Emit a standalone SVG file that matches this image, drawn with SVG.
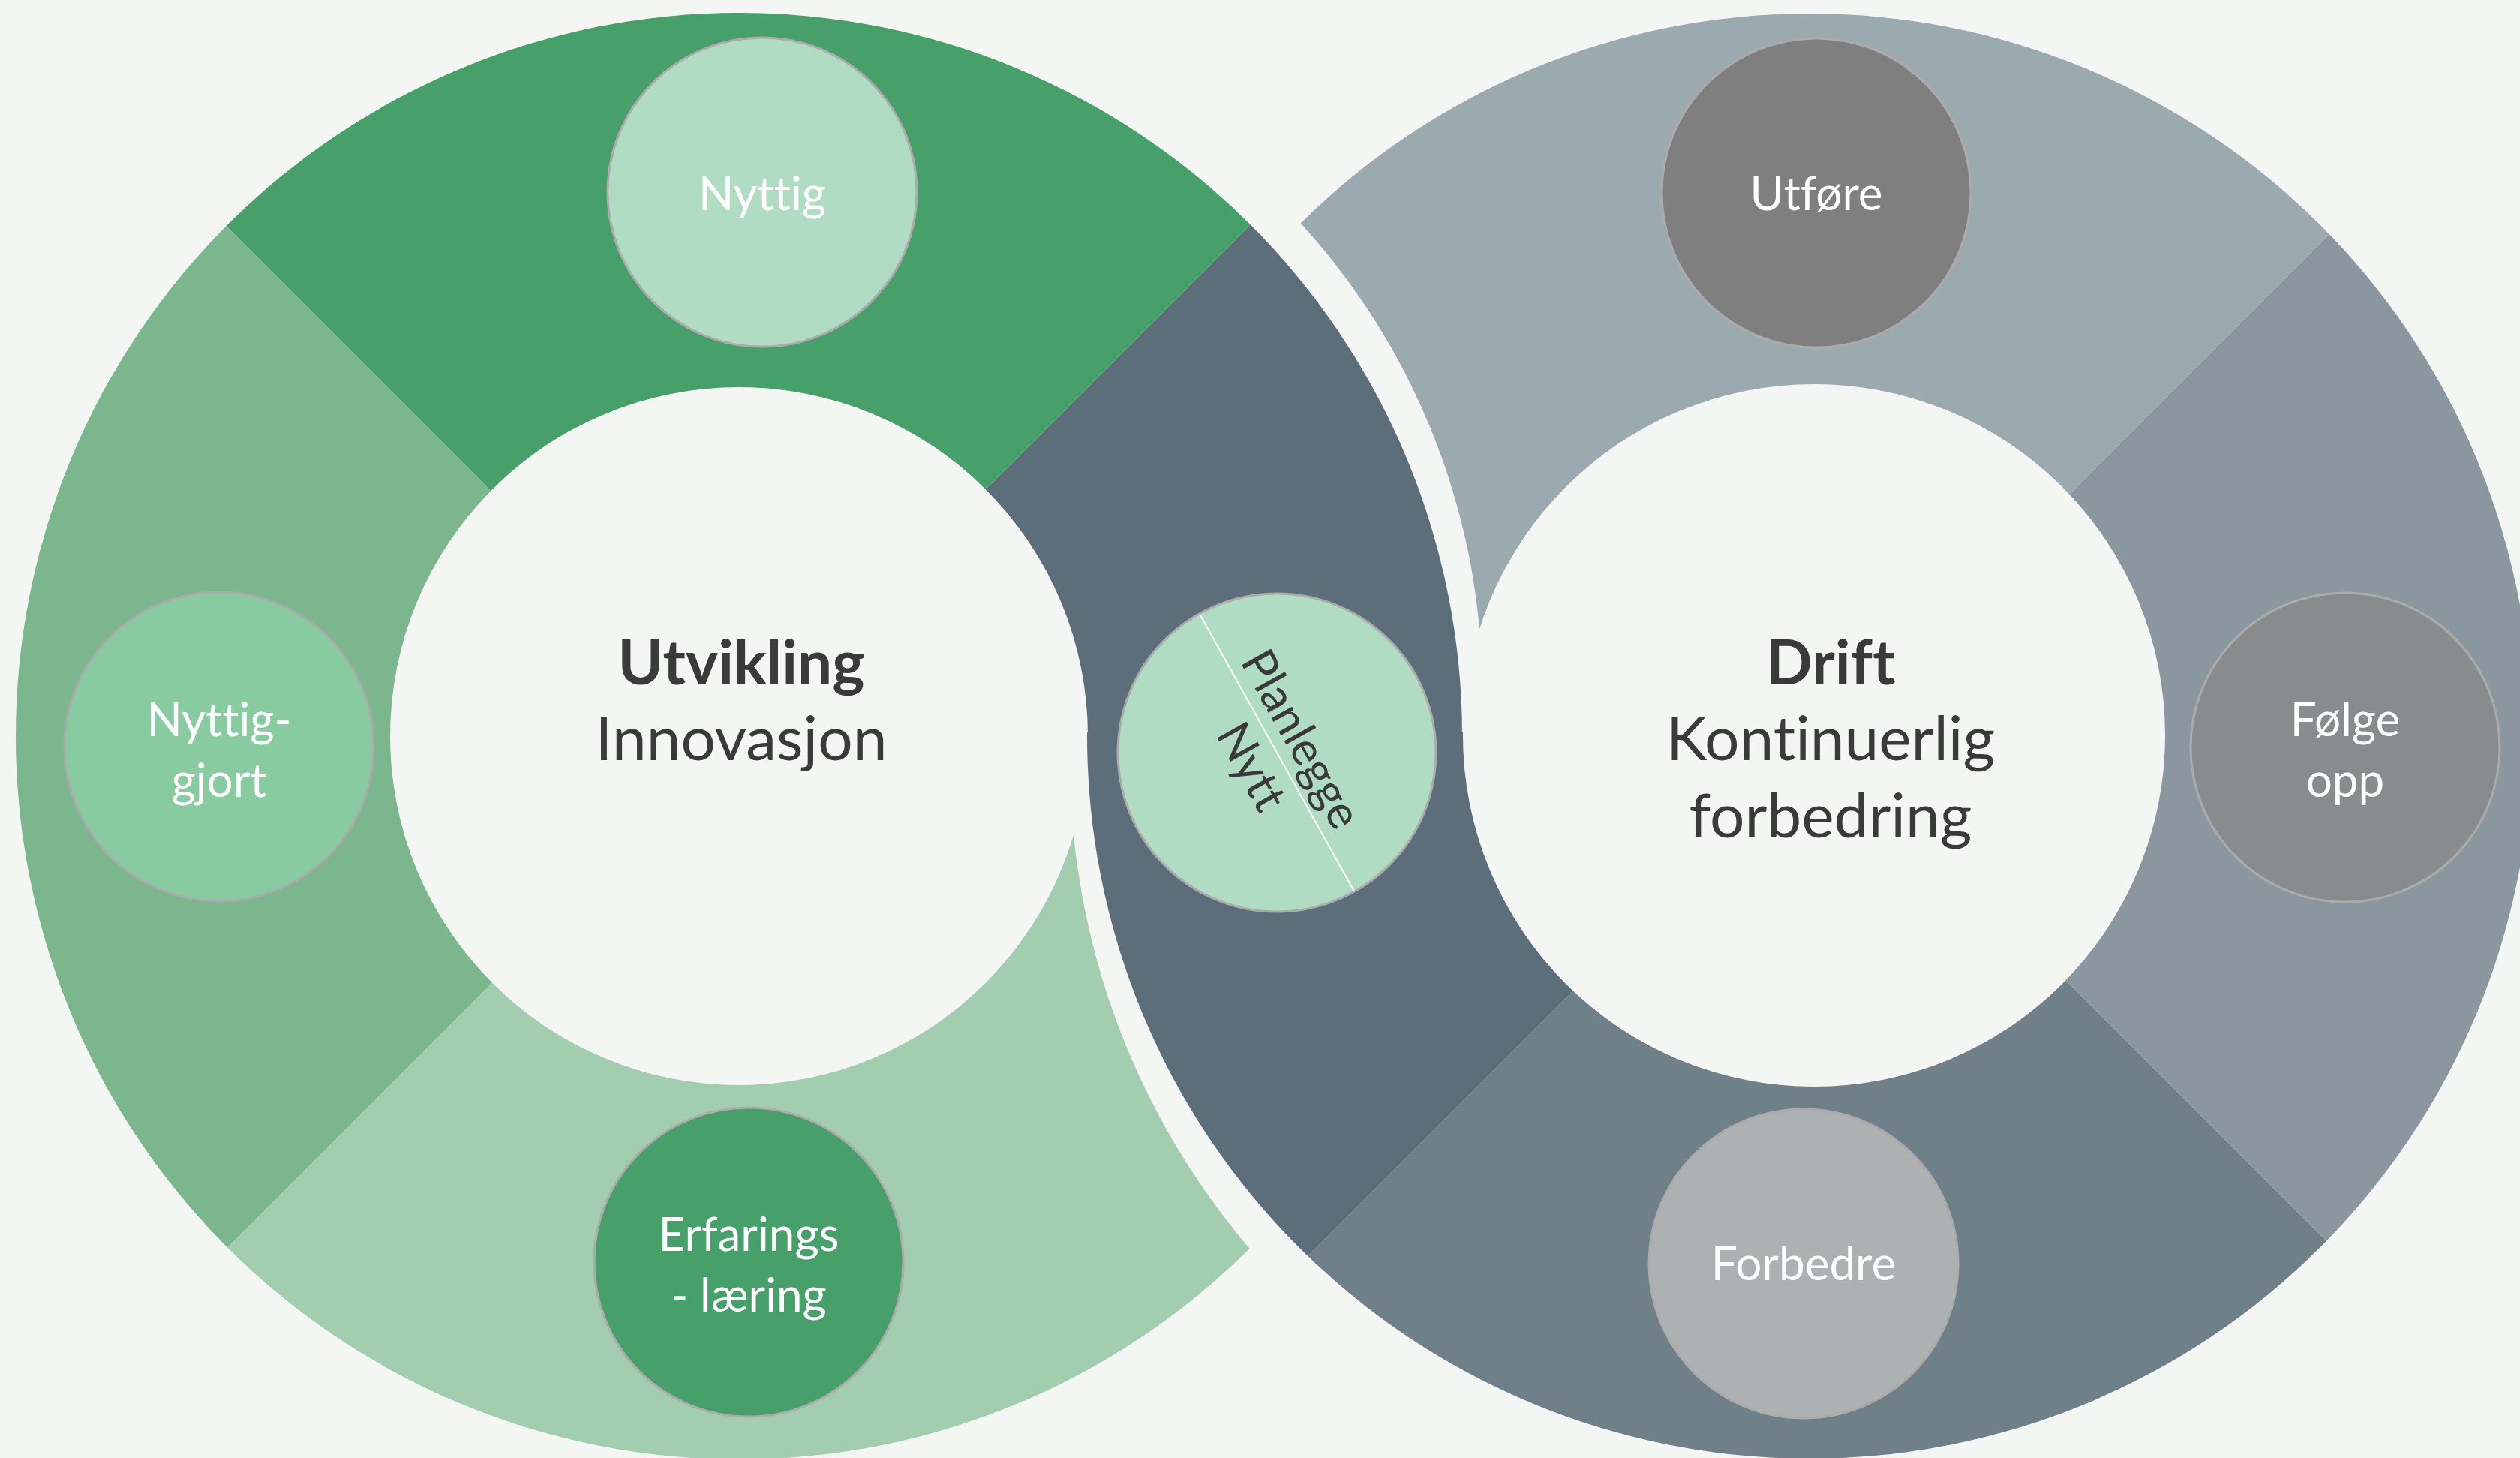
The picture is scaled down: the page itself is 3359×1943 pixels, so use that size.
<svg xmlns="http://www.w3.org/2000/svg" width="3359" height="1943" viewBox="0 0 3359 1943">
<style>
.ring{fill-rule:evenodd}
.node{stroke:#ABABAB;stroke-width:3}
.lbl{font-family:Lato,"Open Sans","Liberation Sans",sans-serif;font-size:62px;fill:#FFFFFF;text-anchor:middle;font-variant-ligatures:none;font-feature-settings:"liga" 0,"clig" 0}
.ctr{font-family:Lato,"Open Sans","Liberation Sans",sans-serif;font-size:82px;fill:#3A3A3A;text-anchor:middle;font-variant-ligatures:none;font-feature-settings:"liga" 0,"clig" 0}
.dark{fill:#3A3A3A}
.b{font-weight:bold}
</style>
<defs>
<path id="annL" d="M21 981A964 964 0 1 1 1949 981A964 964 0 1 1 21 981ZM520 981A465 465 0 1 1 1450 981A465 465 0 1 1 520 981Z"/>
<path id="annR" d="M1449 981A963 963 0 1 1 3375 981A963 963 0 1 1 1449 981ZM1950 980A468 468 0 1 1 2886 980A468 468 0 1 1 1950 980Z"/>
<clipPath id="wLTop"><polygon points="983,983 -117,-117 2083,-117"/></clipPath>
<clipPath id="wLLeft"><polygon points="983,983 -117,2083 -117,-117"/></clipPath>
<clipPath id="wLBot"><polygon points="983,983 2600,983 2600,2083 -117,2083"/></clipPath>
<clipPath id="wLDark"><polygon points="983,983 2083,-117 2600,-117 2600,995 983,995"/></clipPath>
<clipPath id="wRDark"><polygon points="2432,985 1232,2185 800,2185 800,975 2432,975"/></clipPath>
<clipPath id="wRTop"><polygon points="2432,985 800,985 800,-215 3632,-215"/></clipPath>
<clipPath id="wRRight"><polygon points="2432,985 3632,-215 3632,2185"/></clipPath>
<clipPath id="wRBot"><polygon points="2432,985 3632,2185 1232,2185"/></clipPath>
<mask id="mNotR" maskUnits="userSpaceOnUse" x="0" y="0" width="3359" height="1943"><rect width="3359" height="1943" fill="#fff"/><circle cx="2430" cy="1013" r="1004" fill="#000"/></mask>
<mask id="mNotL" maskUnits="userSpaceOnUse" x="0" y="0" width="3359" height="1943"><rect width="3359" height="1943" fill="#fff"/><circle cx="1050" cy="922" r="926" fill="#000"/></mask>
</defs>
<rect width="3359" height="1943" fill="#F4F6F3"/>
<g id="ring-utvikling">
<use href="#annL" class="ring" fill="#479F69" clip-path="url(#wLTop)"/>
<use href="#annL" class="ring" fill="#7CB68C" clip-path="url(#wLLeft)"/>
<g mask="url(#mNotR)"><use href="#annL" class="ring" fill="#A2CDAF" clip-path="url(#wLBot)"/></g>
</g>
<g id="ring-drift">
<g mask="url(#mNotL)"><use href="#annR" class="ring" fill="#9BAAAF" clip-path="url(#wRTop)"/></g>
<use href="#annR" class="ring" fill="#8A979E" clip-path="url(#wRRight)"/>
<use href="#annR" class="ring" fill="#708089" clip-path="url(#wRBot)"/>
</g>
<g id="link-band">
<use href="#annL" class="ring" fill="#5B6E7A" clip-path="url(#wLDark)"/>
<use href="#annR" class="ring" fill="#5B6E7A" clip-path="url(#wRDark)"/>
</g>
<g id="center-utvikling">
<text class="ctr b" x="988" y="912">Utvikling</text>
<text class="ctr" x="988" y="1013">Innovasjon</text>
</g>
<g id="center-drift">
<text class="ctr b" x="2440" y="912">Drift</text>
<text class="ctr" x="2440" y="1013">Kontinuerlig</text>
<text class="ctr" x="2440" y="1116">forbedring</text>
</g>
<g id="node-nyttig">
<circle class="node" cx="1016" cy="256" r="206" fill="#B0DCC3"/>
<text class="lbl" x="1016" y="280">Nyttig</text>
</g>
<g id="node-nyttiggjort">
<circle class="node" cx="292" cy="995" r="206" fill="#89CBA1"/>
<text class="lbl" x="292" y="981">Nyttig-</text>
<text class="lbl" x="292" y="1062">gjort</text>
</g>
<g id="node-erfaring">
<circle class="node" cx="998" cy="1682" r="206" fill="#479F69"/>
<text class="lbl" x="998" y="1667">Erfarings</text>
<text class="lbl" x="998" y="1748">- læring</text>
</g>
<g id="node-planlegge">
<circle class="node" cx="1702" cy="1003" r="212" fill="#B0DCC3"/>
<g transform="translate(1702 1003) rotate(60.88)">
<line x1="-211" y1="0" x2="211" y2="0" stroke="#FFFFFF" stroke-width="2"/>
<text class="lbl dark" x="0" y="-16">Planlegge</text>
<text class="lbl dark" x="0" y="60">Nytt</text>
</g>
</g>
<g id="node-utfore">
<circle class="node" cx="2421" cy="257" r="206" fill="#7F7F7F"/>
<text class="lbl" x="2421" y="280">Utføre</text>
</g>
<g id="node-folge">
<circle class="node" cx="3126" cy="996" r="206" fill="#898C8D"/>
<text class="lbl" x="3126" y="981">Følge</text>
<text class="lbl" x="3126" y="1062">opp</text>
</g>
<g id="node-forbedre">
<circle class="node" cx="2404" cy="1684" r="206" fill="#AEB1B1"/>
<text class="lbl" x="2404" y="1706">Forbedre</text>
</g>
</svg>
